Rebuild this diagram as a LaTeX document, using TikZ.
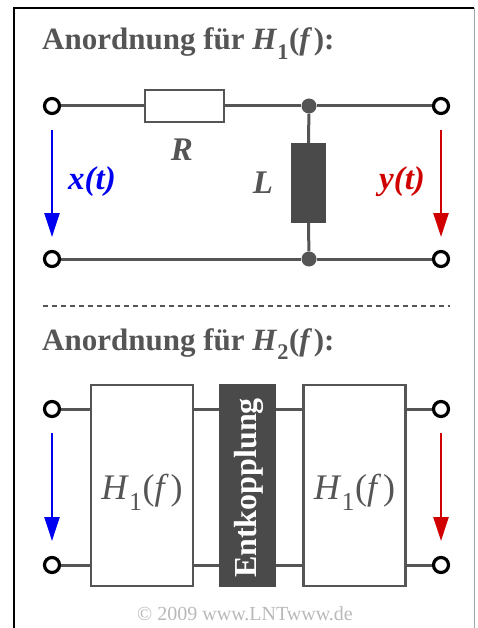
\documentclass[tikz,border=0pt]{standalone}
\usepackage{fontspec}
\setmainfont{Liberation Serif}
\usetikzlibrary{arrows.meta}
\definecolor{wire}{HTML}{555555}
\definecolor{dark}{HTML}{4A4A4A}
\definecolor{ttl}{HTML}{555555}
\definecolor{myblue}{HTML}{0000F0}
\definecolor{myred}{HTML}{D00000}
\newcommand{\mysub}[1]{\raisebox{-0.3em}{\scalebox{0.72}{#1}}}
\tikzset{
  wireline/.style={draw=wire, line width=3pt},
  term/.style={circle, draw=black, fill=white, line width=3.2pt, minimum size=15pt, inner sep=0pt},
  junc/.style={circle, fill=wire, minimum size=15pt, inner sep=0pt},
  resbox/.style={draw=wire, fill=white, line width=2.6pt, minimum width=79pt, minimum height=32pt, inner sep=0pt},
  indbox/.style={fill=dark, minimum width=35pt, minimum height=80pt, inner sep=0pt},
  hbox/.style={draw=wire, fill=white, line width=2.8pt, minimum width=102pt, minimum height=201pt, inner sep=0pt},
  ebox/.style={fill=dark, minimum width=57pt, minimum height=203pt, inner sep=0pt},
  sig/.style={line width=2.6pt, -{Triangle[length=24pt,width=15pt]}},
  title/.style={anchor=base west, text=ttl, font=\fontsize{31}{36}\selectfont\bfseries, inner sep=0pt},
  lbl/.style={text=ttl, font=\fontsize{33}{36}\selectfont\bfseries\itshape, inner sep=0pt},
}
\begin{document}
\begin{tikzpicture}[x=1pt,y=-1pt]
\useasboundingbox (0,0) rectangle (477,628);
% frame
\draw[black, line width=2pt] (14,628) -- (14,8) -- (474,8);
\draw[gray!70, line width=1pt] (474,8) -- (474,628);
% ---------- part 1
\node[title] (t1) at (42,50) {Anordnung für \textit{H}\mysub{1}\kern0.02em(\textit{f}\kern0.05em):};
\node[term] (a1) at (52,106) {};
\node[term] (b1) at (441,106) {};
\node[term] (c1) at (52,259) {};
\node[term] (d1) at (441,259) {};
\node[junc] (j1) at (309,106) {};
\node[junc] (j2) at (309,259) {};
\node[resbox] (R) at (184.5,106) {};
\node[indbox] (L) at (308.5,183) {};
\draw[wireline] (a1) -- (R.west);
\draw[wireline] (R.east) -- (j1) -- (b1);
\draw[wireline] (c1) -- (j2) -- (d1);
\draw[wireline] (j1) -- (L.north);
\draw[wireline] (L.south) -- (j2);
\node[lbl] (Rl) at (182,150) {R};
\node[lbl] (Ll) at (263,183) {L};
\node[lbl, text=myblue] (xl) at (92,182) {x(t)};
\node[lbl, text=myred] (yl) at (402,182) {y(t)};
\coordinate (xs) at (52,130); \coordinate (xe) at (52,237);
\coordinate (ys) at (441,130); \coordinate (ye) at (441,237);
\draw[sig, myblue] (xs) -- (xe);
\draw[sig, myred] (ys) -- (ye);
% separator
\coordinate (s1) at (43,306); \coordinate (s2) at (450,306);
\draw[wire, line width=1.2pt, dash pattern=on 5pt off 4pt] (s1) -- (s2);
% ---------- part 2
\node[title] (t2) at (42,350) {Anordnung für \textit{H}\mysub{2}\kern0.02em(\textit{f}\kern0.05em):};
\node[term] (a2) at (52,409) {};
\node[term] (b2) at (441,409) {};
\node[term] (c2) at (52,565) {};
\node[term] (d2) at (441,565) {};
\node[hbox] (H1) at (142,485.5) {};
\node[ebox] (E) at (247.5,485) {};
\node[hbox] (H2) at (354.5,485.5) {};
\draw[wireline] (a2) -- (a2 -| H1.west);
\draw[wireline] (c2) -- (c2 -| H1.west);
\draw[wireline] (a2 -| H1.east) -- (a2 -| E.west);
\draw[wireline] (c2 -| H1.east) -- (c2 -| E.west);
\draw[wireline] (a2 -| E.east) -- (a2 -| H2.west);
\draw[wireline] (c2 -| E.east) -- (c2 -| H2.west);
\draw[wireline] (a2 -| H2.east) -- (b2);
\draw[wireline] (c2 -| H2.east) -- (d2);
\node[text=ttl, font=\fontsize{36}{40}\selectfont, inner sep=0pt] (h1l) at (142,492) {\textit{H}\mysub{1}\kern0.02em(\textit{f}\kern0.05em)};
\node[text=ttl, font=\fontsize{36}{40}\selectfont, inner sep=0pt] (h2l) at (354.5,492) {\textit{H}\mysub{1}\kern0.02em(\textit{f}\kern0.05em)};
\node[text=white, rotate=90, font=\fontsize{32}{36}\selectfont\bfseries, inner sep=0pt] (El) at (249,488) {Entkopplung};
\coordinate (xs2) at (52,433); \coordinate (xe2) at (52,541);
\coordinate (ys2) at (441,433); \coordinate (ye2) at (441,541);
\draw[sig, myblue] (xs2) -- (xe2);
\draw[sig, myred] (ys2) -- (ye2);
\node[text=gray!55, font=\fontsize{20}{24}\selectfont, inner sep=0pt] (cp) at (245,614) {© 2009 www.LNTwww.de};
\end{tikzpicture}
\end{document}
